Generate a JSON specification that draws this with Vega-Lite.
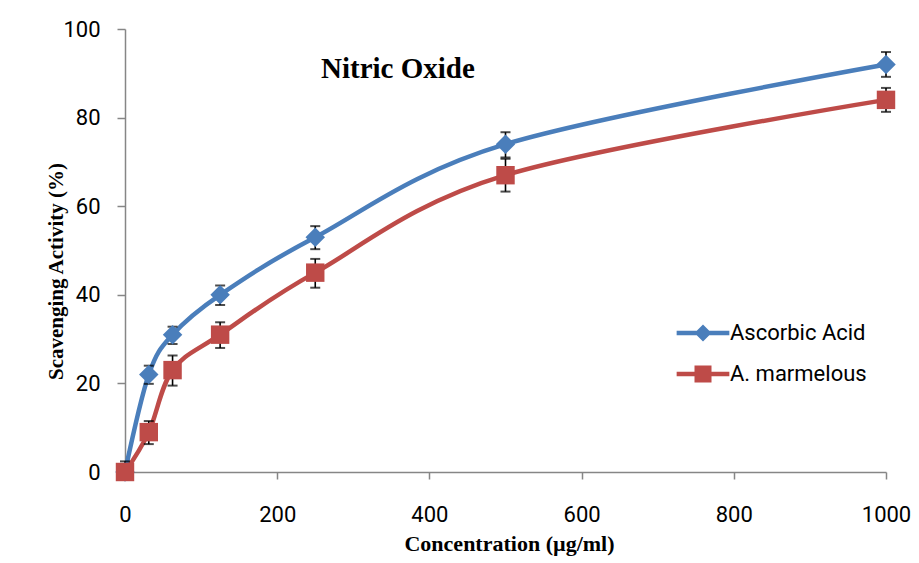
{
  "$schema": "https://vega.github.io/schema/vega-lite/v6.json",
  "width": 761,
  "height": 443,
  "autosize": "none",
  "padding": {"left": 125, "top": 29, "right": 33, "bottom": 91},
  "background": "#ffffff",
  "title": {
    "text": "Nitric Oxide",
    "anchor": "start",
    "frame": "group",
    "orient": "top",
    "baseline": "alphabetic",
    "offset": 0,
    "dx": 196,
    "dy": 89,
    "font": "Liberation Serif",
    "fontSize": 29,
    "fontWeight": "bold",
    "color": "#000000"
  },
  "config": {
    "view": {"stroke": null},
    "axis": {
      "grid": false,
      "domainColor": "#868686",
      "domainWidth": 1.5,
      "tickColor": "#868686",
      "tickWidth": 1.5,
      "labelFont": "Roboto",
      "labelFontSize": 22,
      "labelColor": "#000000",
      "labelFlush": false,
      "labelOverlap": false,
      "titleFont": "Liberation Serif",
      "titleFontWeight": "bold",
      "titleFontSize": 21,
      "titleColor": "#000000"
    }
  },
  "data": {
    "values": [
      {"series": "Ascorbic Acid", "conc": 0, "value": 0, "lo": 0, "hi": 2.4},
      {"series": "Ascorbic Acid", "conc": 31.25, "value": 22, "lo": 19.9, "hi": 24.0},
      {"series": "Ascorbic Acid", "conc": 62.5, "value": 31, "lo": 28.9, "hi": 32.8},
      {"series": "Ascorbic Acid", "conc": 125, "value": 40, "lo": 37.7, "hi": 42.1},
      {"series": "Ascorbic Acid", "conc": 250, "value": 53, "lo": 50.3, "hi": 55.5},
      {"series": "Ascorbic Acid", "conc": 500, "value": 74, "lo": 71.0, "hi": 76.7},
      {"series": "Ascorbic Acid", "conc": 1000, "value": 92, "lo": 89.2, "hi": 94.8},
      {"series": "A. marmelous", "conc": 0, "value": 0, "lo": 0, "hi": 1.2},
      {"series": "A. marmelous", "conc": 31.25, "value": 9, "lo": 6.3, "hi": 11.5},
      {"series": "A. marmelous", "conc": 62.5, "value": 23, "lo": 19.5, "hi": 26.3},
      {"series": "A. marmelous", "conc": 125, "value": 31, "lo": 28.0, "hi": 33.8},
      {"series": "A. marmelous", "conc": 250, "value": 45, "lo": 41.6, "hi": 48.1},
      {"series": "A. marmelous", "conc": 500, "value": 67, "lo": 63.3, "hi": 70.7},
      {"series": "A. marmelous", "conc": 1000, "value": 84, "lo": 81.3, "hi": 86.7}
    ]
  },
  "encoding": {
    "x": {
      "field": "conc",
      "type": "quantitative",
      "scale": {"domain": [0, 1000], "nice": false, "zero": true},
      "axis": {
        "values": [0, 200, 400, 600, 800, 1000],
        "format": "d",
        "tickSize": 7,
        "labelPadding": 25,
        "labelBaseline": "top",
        "title": "Concentration (µg/ml)",
        "titleX": 384,
        "titleY": 78,
        "titleFontSize": 22,
        "titleBaseline": "alphabetic",
        "titleAlign": "center"
      }
    },
    "y": {
      "field": "value",
      "type": "quantitative",
      "scale": {"domain": [0, 100], "nice": false},
      "axis": {
        "values": [0, 20, 40, 60, 80, 100],
        "format": "d",
        "tickSize": 8,
        "labelPadding": 17,
        "title": "Scavenging Activity (%)",
        "titleAngle": 270,
        "titleX": -63,
        "titleY": 242,
        "titleBaseline": "alphabetic",
        "titleAlign": "center"
      }
    }
  },
  "layer": [
    {
      "mark": {"type": "line", "interpolate": "cardinal", "tension": 0, "strokeWidth": 4.5},
      "encoding": {
        "color": {
          "field": "series",
          "type": "nominal",
          "scale": {"domain": ["Ascorbic Acid", "A. marmelous"], "range": ["#4A7EBB", "#BE4B48"]},
          "legend": {
            "title": null,
            "orient": "none",
            "legendX": 541,
            "legendY": 293,
            "padding": 0,
            "symbolSize": 289,
            "symbolOffset": 26,
            "symbolStrokeWidth": 0,
            "labelOffset": 16,
            "labelFont": "Roboto",
            "labelFontSize": 22,
            "labelColor": "#000000",
            "rowPadding": 19,
            "encode": {
              "symbols": {
                "update": {
                  "shape": {"signal": "datum.value === 'Ascorbic Acid' ? 'M-3.1,-0.27H3.1V0.27H-3.1Z M0,-1L1,0L0,1L-1,0Z' : 'M-3.1,-0.27H3.1V0.27H-3.1Z M-1,-1H1V1H-1Z'"},
                  "fill": {"signal": "datum.value === 'Ascorbic Acid' ? '#4A7EBB' : '#BE4B48'"},
                  "stroke": {"value": "transparent"},
                  "strokeWidth": {"value": 0},
                  "opacity": {"value": 1}
                }
              }
            }
          }
        }
      }
    },
    {
      "mark": {"type": "rule", "color": "#000000", "strokeWidth": 1.6},
      "encoding": {
        "y": {"field": "lo", "type": "quantitative"},
        "y2": {"field": "hi"}
      }
    },
    {
      "mark": {"type": "tick", "orient": "horizontal", "color": "#000000", "size": 10, "thickness": 2},
      "encoding": {"y": {"field": "hi", "type": "quantitative"}}
    },
    {
      "mark": {"type": "tick", "orient": "horizontal", "color": "#000000", "size": 10, "thickness": 2},
      "encoding": {"y": {"field": "lo", "type": "quantitative"}}
    },
    {
      "transform": [{"filter": "datum.series === 'Ascorbic Acid'"}],
      "mark": {"type": "point", "shape": "diamond", "filled": true, "opacity": 1, "size": 380, "color": "#4A7EBB"},
      "encoding": {}
    },
    {
      "transform": [{"filter": "datum.series === 'A. marmelous'"}],
      "mark": {"type": "point", "shape": "square", "filled": true, "opacity": 1, "size": 340, "color": "#BE4B48"},
      "encoding": {}
    }
  ]
}
